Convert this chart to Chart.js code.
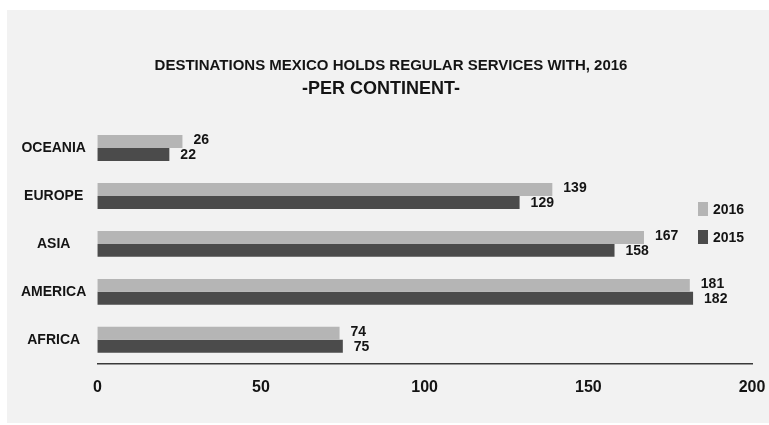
<!DOCTYPE html>
<html>
<head>
<meta charset="utf-8">
<script src="https://cdn.jsdelivr.net/npm/chart.js@4/dist/chart.umd.min.js"></script>
<style>
  html, body { margin: 0; padding: 0; background: #ffffff; }
  #wrap { position: relative; width: 769px; height: 425px; }
</style>
</head>
<body>
<div id="wrap"><canvas id="chart" width="769" height="425"></canvas></div>
<script>
// Destinations per continent
const continents = ['OCEANIA', 'EUROPE', 'ASIA', 'AMERICA', 'AFRICA'];
const seriesNames = ['2016', '2015'];
const values2016 = [26, 139, 167, 181, 74];
const values2015 = [22, 129, 158, 182, 75];
const xTicks = [0, 50, 100, 150, 200];
const titleLines = ['DESTINATIONS MEXICO HOLDS REGULAR SERVICES WITH, 2016', '-PER CONTINENT-'];

const FONT = '"Liberation Sans", Arial, Helvetica, sans-serif';
const INK = '#141414';
const LIGHT = '#b5b5b5';
const DARK = '#4b4b4b';

// grey panel behind the chart
const panelBg = {
  id: 'panelBg',
  beforeDraw(chart) {
    const ctx = chart.ctx;
    ctx.save();
    ctx.fillStyle = '#f2f2f2';
    ctx.fillRect(7, 10, chart.width - 7, chart.height - 12);
    ctx.restore();
  }
};

// two-line heading above the plot
const heading = {
  id: 'heading',
  afterDraw(chart) {
    const ctx = chart.ctx;
    ctx.save();
    ctx.fillStyle = INK;
    ctx.textAlign = 'center';
    ctx.textBaseline = 'middle';
    ctx.font = 'bold 15px ' + FONT;
    ctx.fillText(titleLines[0], 391, 66);
    ctx.font = 'bold 18px ' + FONT;
    ctx.fillText(titleLines[1], 381, 89);
    ctx.restore();
  }
};

// value written just past the end of each bar
const barValues = {
  id: 'barValues',
  afterDatasetsDraw(chart) {
    const ctx = chart.ctx;
    ctx.save();
    ctx.font = 'bold 14px ' + FONT;
    ctx.fillStyle = INK;
    ctx.textAlign = 'left';
    ctx.textBaseline = 'middle';
    chart.data.datasets.forEach((ds, di) => {
      const meta = chart.getDatasetMeta(di);
      const shift = di === 0 ? -1 : 1;
      meta.data.forEach((bar, i) => {
        ctx.fillText(String(ds.data[i]), bar.x + 11, bar.y + shift);
      });
    });
    ctx.restore();
  }
};

// square-swatch legend inside the plot, on the right
const sideLegend = {
  id: 'sideLegend',
  afterDraw(chart) {
    const ctx = chart.ctx;
    const area = chart.chartArea;
    ctx.save();
    ctx.font = 'bold 14px ' + FONT;
    ctx.textAlign = 'left';
    ctx.textBaseline = 'middle';
    chart.data.datasets.forEach((ds, i) => {
      const cy = 209 + i * 28;
      const x = area.right - 54;
      ctx.fillStyle = ds.backgroundColor;
      ctx.fillRect(x, cy - 7, 10, 14);
      ctx.fillStyle = INK;
      ctx.fillText(ds.label, x + 15, cy + 1);
    });
    ctx.restore();
  }
};

new Chart(document.getElementById('chart'), {
  type: 'bar',
  data: {
    labels: continents,
    datasets: [
      { label: seriesNames[0], data: values2016, backgroundColor: LIGHT, borderWidth: 0 },
      { label: seriesNames[1], data: values2015, backgroundColor: DARK, borderWidth: 0 }
    ]
  },
  options: {
    indexAxis: 'y',
    responsive: false,
    animation: false,
    devicePixelRatio: 1,
    layout: { padding: { left: 10, right: 17, top: 124, bottom: 14 } },
    datasets: { bar: { categoryPercentage: 0.54, barPercentage: 1 } },
    plugins: {
      legend: { display: false },
      tooltip: { enabled: false },
      title: { display: false },
      subtitle: { display: false }
    },
    scales: {
      x: {
        min: 0,
        max: 200,
        afterBuildTicks(axis) { axis.ticks = xTicks.map(v => ({ value: v })); },
        afterFit(axis) { axis.paddingRight = 0; axis.paddingLeft = 0; },
        grid: { display: false, drawTicks: false },
        border: { display: true, color: '#3a3a3a', width: 1.5 },
        ticks: {
          color: INK,
          padding: 14,
          font: { family: FONT, size: 16, weight: 'bold' }
        }
      },
      y: {
        grid: { display: false, drawTicks: false },
        border: { display: false },
        ticks: {
          color: INK,
          padding: 11,
          crossAlign: 'center',
          font: { family: FONT, size: 14, weight: 'bold' }
        }
      }
    }
  },
  plugins: [panelBg, heading, barValues, sideLegend]
});
</script>
</body>
</html>
